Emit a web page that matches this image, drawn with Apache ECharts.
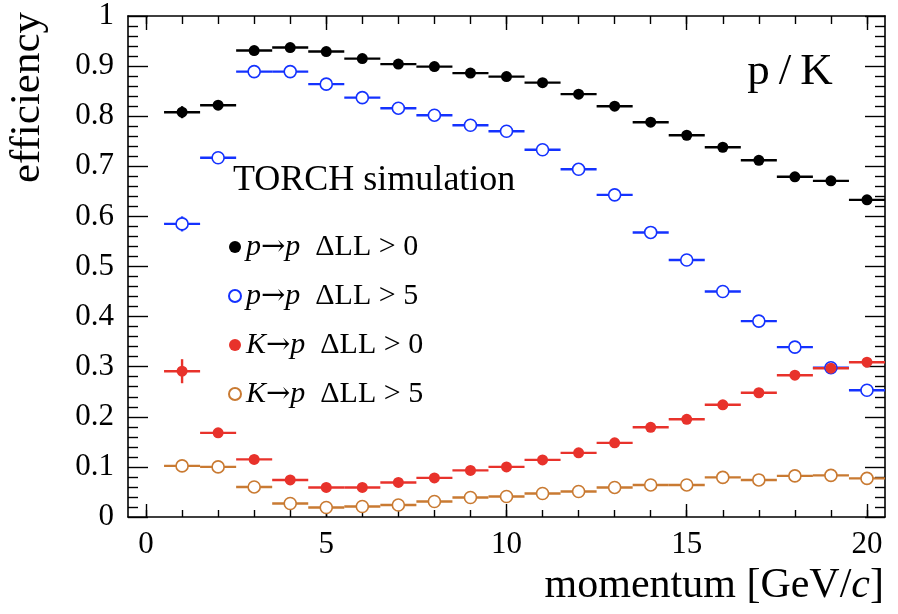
<!DOCTYPE html>
<html>
<head>
<meta charset="utf-8">
<script src="https://cdn.jsdelivr.net/npm/echarts@6/dist/echarts.min.js"></script>
<style>
html,body{margin:0;padding:0;background:#fff;}
#main{width:898px;height:614px;}
</style>
</head>
<body>
<div id="main"></div>
<script>
// momentum bins (GeV/c), bin half width 0.5
var momentum = [1,2,3,4,5,6,7,8,9,10,11,12,13,14,15,16,17,18,19,20];
// p -> p, dLL > 0
var ppLL0 = [0.808,0.822,0.931,0.937,0.929,0.915,0.904,0.899,0.886,0.879,0.867,0.844,0.820,0.788,0.762,0.738,0.712,0.679,0.671,0.633];
var ppLL0Err = [0.012,0.004,0.003,0.003,0.003,0.003,0.003,0.003,0.003,0.003,0.003,0.003,0.003,0.003,0.003,0.003,0.003,0.003,0.003,0.003];
// p -> p, dLL > 5
var ppLL5 = [0.585,0.717,0.889,0.889,0.864,0.837,0.816,0.802,0.782,0.770,0.733,0.694,0.643,0.568,0.513,0.450,0.391,0.339,0.298,0.253];
var ppLL5Err = [0.015,0.005,0.003,0.003,0.003,0.003,0.003,0.003,0.003,0.003,0.003,0.003,0.004,0.004,0.004,0.004,0.004,0.004,0.004,0.004];
// K -> p, dLL > 0
var kpLL0 = [0.291,0.168,0.115,0.074,0.059,0.059,0.069,0.078,0.093,0.100,0.114,0.128,0.148,0.179,0.195,0.224,0.248,0.283,0.297,0.309];
var kpLL0Err = [0.024,0.005,0.003,0.003,0.003,0.003,0.003,0.003,0.003,0.003,0.003,0.003,0.003,0.003,0.003,0.004,0.004,0.004,0.004,0.004];
// K -> p, dLL > 5
var kpLL5 = [0.102,0.100,0.060,0.027,0.019,0.021,0.024,0.031,0.039,0.041,0.047,0.051,0.059,0.064,0.064,0.079,0.074,0.082,0.083,0.077];
var kpLL5Err = [0.012,0.004,0.003,0.002,0.002,0.002,0.002,0.002,0.002,0.002,0.002,0.002,0.002,0.002,0.002,0.003,0.003,0.003,0.003,0.003];

var xMajor = [0,5,10,15,20];
var xMinor = [0,1,2,3,4,5,6,7,8,9,10,11,12,13,14,15,16,17,18,19,20];

var names = ['pp0','pp5','kp0','kp5'];
var labels = {
    pp0: '{i|p}{a|\u2192}{i|p}  \u0394LL > 0',
    pp5: '{i|p}{a|\u2192}{i|p}  \u0394LL > 5',
    kp0: '{i|K}{a|\u2192}{i|p}  \u0394LL > 0',
    kp5: '{i|K}{a|\u2192}{i|p}  \u0394LL > 5'
};
var colors = {pp0:'#000000', pp5:'#1432ff', kp0:'#e8322b', kp5:'#c97a32'};
var values = {pp0:ppLL0, pp5:ppLL5, kp0:kpLL0, kp5:kpLL5};
var errors = {pp0:ppLL0Err, pp5:ppLL5Err, kp0:kpLL0Err, kp5:kpLL5Err};
var open = {pp0:false, pp5:true, kp0:false, kp5:true};

var serif = '"Liberation Serif","DejaVu Serif",serif';

function errBars(color){
    return function(params, api){
        var x = api.value(0), y = api.value(1), e = api.value(2);
        var a = api.coord([x-0.5, y]), b = api.coord([x+0.5, y]);
        var c = api.coord([x, y-e]), d = api.coord([x, y+e]);
        var st = {stroke: color, lineWidth: 2.4};
        return {type:'group', children:[
            {type:'line', shape:{x1:a[0],y1:a[1],x2:b[0],y2:b[1]}, style:st},
            {type:'line', shape:{x1:c[0],y1:c[1],x2:d[0],y2:d[1]}, style:st}
        ]};
    };
}

var series = [];
names.forEach(function(n){
    var d = momentum.map(function(m,i){ return [m, values[n][i], errors[n][i]]; });
    series.push({
        name: n + '_err', type:'custom', renderItem: errBars(colors[n]),
        data: d, silent:true, z:2
    });
    series.push({
        name: n, type:'scatter', data: d.map(function(p){ return [p[0],p[1]]; }),
        symbol:'circle', symbolSize: open[n] ? 12 : 11,
        itemStyle: open[n] ? {color:'#ffffff', borderColor:colors[n], borderWidth:1.6, opacity:1}
                           : {color:colors[n], borderColor:colors[n], borderWidth:0, opacity:1},
        z:3
    });
});

function xAxisDef(pos, vals, len, showLabel, showLine){
    return {
        type:'value', position:pos, min:-0.5, max:20.5,
        axisLine:{show:showLine, onZero:false, lineStyle:{color:'#000', width:1.6}},
        axisTick:{show:true, inside:true, length:len, customValues:vals, lineStyle:{color:'#000', width:1.4}},
        axisLabel:{show:showLabel, customValues:vals, margin:12, color:'#000', fontSize:31, fontFamily:serif},
        splitLine:{show:false}
    };
}
function yAxisDef(pos, showLabel){
    return {
        type:'value', position:pos, min:0, max:1, interval:0.1,
        axisLine:{show:true, onZero:false, lineStyle:{color:'#000', width:1.6}},
        axisTick:{show:true, inside:true, length:20, lineStyle:{color:'#000', width:1.4}},
        minorTick:{show:true, splitNumber:5, length:10, lineStyle:{color:'#000', width:1.4}},
        axisLabel:{show:showLabel, margin:14, color:'#000', fontSize:31, fontFamily:serif},
        splitLine:{show:false}
    };
}

var chart = echarts.init(document.getElementById('main'));
chart.setOption({
    animation:false,
    backgroundColor:'#ffffff',
    grid:{left:128, right:13, top:16, bottom:97},
    xAxis:[
        xAxisDef('bottom', xMajor, 13, true, true),
        xAxisDef('bottom', xMinor, 7, false, false),
        xAxisDef('top', xMajor, 14, false, true),
        xAxisDef('top', xMinor, 8, false, false)
    ],
    yAxis:[
        yAxisDef('left', true),
        yAxisDef('right', false)
    ],
    legend:{
        data: names,
        orient:'vertical', left:223, top:227,
        itemWidth:12, itemHeight:12, itemGap:19, itemTextGap:9,
        formatter:function(n){ return labels[n]; },
        textStyle:{color:'#000', fontSize:30, lineHeight:30, fontFamily:serif,
            rich:{
                i:{fontStyle:'italic', fontSize:30, fontFamily:serif},
                a:{fontSize:29, fontFamily:'"DejaVu Serif",serif'}
            }},
        selectedMode:false
    },
    title:[
        {text:'TORCH simulation', left:228, top:158,
         textStyle:{color:'#000', fontSize:36, fontWeight:'normal', fontFamily:serif}}
    ],
    graphic:[
        {type:'text', x:790, y:72,
         style:{text:'p\u2009/\u2009K', fill:'#000', font:'45px ' + serif, textAlign:'center', textVerticalAlign:'middle'}},
        {type:'text', x:28, y:12, rotation:Math.PI/2,
         style:{text:'efficiency', fill:'#000', font:'43px ' + serif, textAlign:'right', textVerticalAlign:'middle'}},
        {type:'text', x:884, y:586,
         style:{text:'momentum [GeV/{i|c}]', fill:'#000', font:'42px ' + serif, textAlign:'right', textVerticalAlign:'middle',
                rich:{i:{fontStyle:'italic', fontSize:42, fontFamily:serif}}}}
    ],
    series: series
});
</script>
</body>
</html>
